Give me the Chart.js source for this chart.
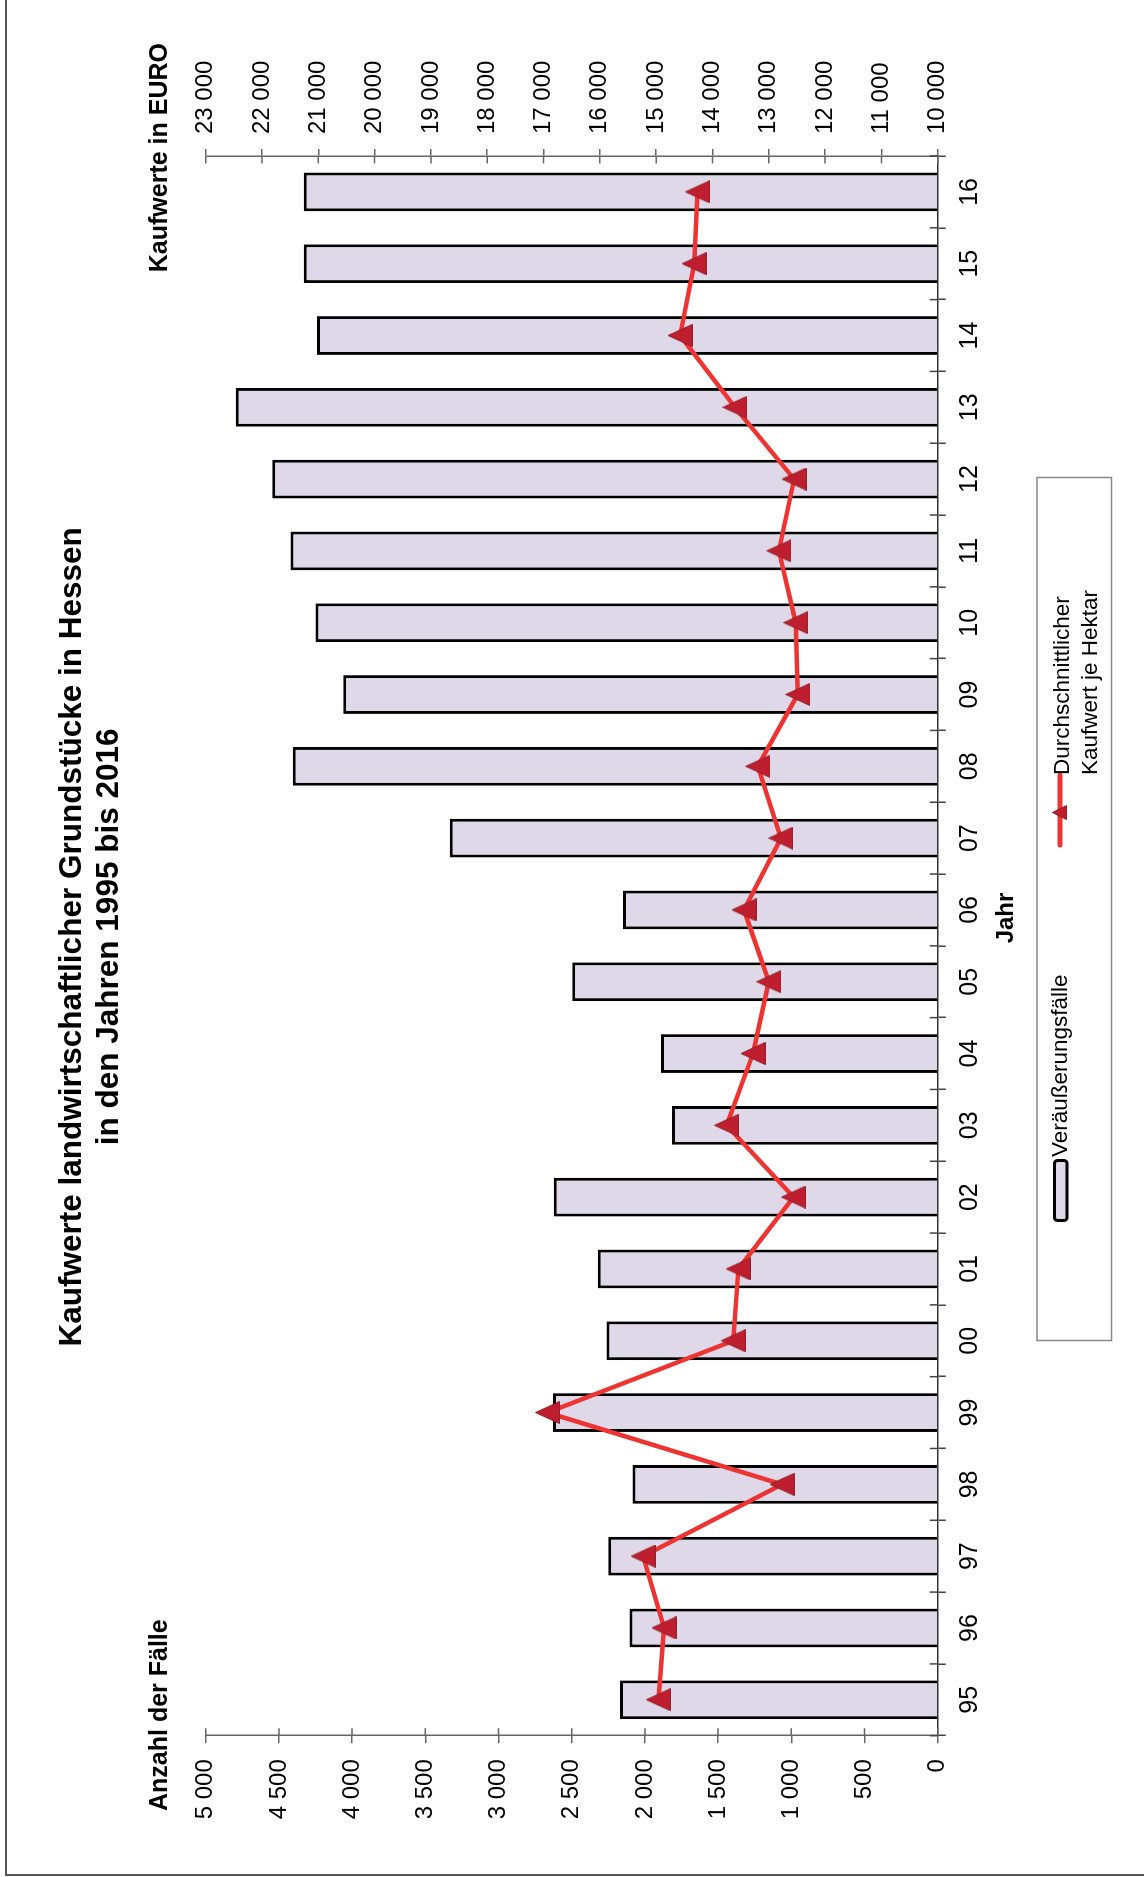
<!DOCTYPE html>
<html lang="de">
<head>
<meta charset="utf-8">
<title>Kaufwerte landwirtschaftlicher Grundstücke in Hessen</title>
<script src="https://cdn.jsdelivr.net/npm/chart.js@4.4.1/dist/chart.umd.min.js"></script>
<style>
  html, body { margin: 0; padding: 0; background: #fff; }
  body { width: 1144px; height: 1877px; position: relative; overflow: hidden; }
  #frame { position: absolute; left: 5px; top: 0; width: 1139px; height: 1876px;
           border-left: 2px solid #555; border-bottom: 2px solid #555; box-sizing: border-box; }
  #turn { position: absolute; left: 0; top: 0; width: 1877px; height: 1144px;
          transform-origin: 0 0; transform: translateY(1877px) rotate(-90deg); }
</style>
</head>
<body>
<div id="frame"></div>
<div id="turn"><canvas id="chart" width="1877" height="1144"></canvas></div>
<script>
// Jahre 1995 - 2016
const years = ['95', '96', '97', '98', '99', '00', '01', '02', '03', '04', '05',
               '06', '07', '08', '09', '10', '11', '12', '13', '14', '15', '16']
// Anzahl der Veräußerungsfälle
const cases = [2170, 2105, 2250, 2085, 2628, 2262, 2322, 2622, 1815, 1890, 2497,
               2150, 3333, 4405, 4060, 4250, 4420, 4545, 4795, 4240, 4330, 4330]
// durchschnittlicher Kaufwert je Hektar in EURO
const pricePerHa = [14960, 14860, 15230, 12765, 16930, 13630, 13540, 12560, 13750, 13280, 13000,
                    13440, 12785, 13195, 12485, 12520, 12820, 12550, 13600, 14575, 14325, 14265]

// Achsen
const caseAxis = { min: 0, max: 5000, step: 500 }
const priceAxis = { min: 10000, max: 23000, step: 1000 }

const titleLines = ['Kaufwerte landwirtschaftlicher Grundstücke in Hessen', 'in den Jahren 1995 bis 2016']
const leftTitle = 'Anzahl der Fälle'
const rightTitle = 'Kaufwerte in EURO'
const xTitle = 'Jahr'
const barLabel = 'Veräußerungsfälle'
const lineLabel = ['Durchschnittlicher', 'Kaufwert je Hektar']

const FONT = '"Liberation Sans", Arial, Helvetica, sans-serif'
const BAR_FILL = '#DED8E8'
const LINE_RED = '#EE3432'
const MARK_RED = '#BE1E2D'

function fmt(v) {
    if (v < 1000) return String(v)
    return Math.floor(v / 1000) + ' ' + String(v % 1000).padStart(3, '0')
}

function makeTriangle(w, h) {
    let c = document.createElement('canvas')
    c.width = w
    c.height = h
    let g = c.getContext('2d')
    g.beginPath()
    g.moveTo(w / 2, 0.5)
    g.lineTo(w - 0.5, h - 0.5)
    g.lineTo(0.5, h - 0.5)
    g.closePath()
    g.fillStyle = MARK_RED
    g.fill()
    g.strokeStyle = '#93202A'
    g.lineWidth = 1
    g.stroke()
    return c
}

const extras = {
    id: 'extras',
    afterDraw(chart) {
        const ctx = chart.ctx
        const a = chart.chartArea
        const x = chart.scales.x, y = chart.scales.y, y1 = chart.scales.y1
        ctx.save()

        // Teilstriche nach innen
        ctx.lineWidth = 1.5
        ctx.strokeStyle = '#666'
        ctx.beginPath()
        y.ticks.forEach(t => {
            let p = y.getPixelForValue(t.value)
            ctx.moveTo(a.left, p); ctx.lineTo(a.left + 7.5, p)
        })
        y1.ticks.forEach(t => {
            let p = y1.getPixelForValue(t.value)
            ctx.moveTo(a.right, p); ctx.lineTo(a.right - 7.5, p)
        })
        ctx.stroke()
        ctx.strokeStyle = '#444'
        ctx.beginPath()
        for (let i = 0; i <= years.length; i++) {
            let p = x.getPixelForValue(i - 0.5)
            ctx.moveTo(p, a.bottom); ctx.lineTo(p, a.bottom - 8)
        }
        ctx.stroke()

        // Titel
        ctx.fillStyle = '#000'
        ctx.textAlign = 'center'
        ctx.textBaseline = 'alphabetic'
        ctx.font = 'bold 31.5px ' + FONT
        const cx = (a.left + a.right) / 2 + 9
        ctx.fillText(titleLines[0], cx, 81)
        ctx.fillText(titleLines[1], cx, 118)

        // Achsentitel
        ctx.font = 'bold 25px ' + FONT
        ctx.textAlign = 'left'
        ctx.fillText(leftTitle, 66, 167)
        ctx.textAlign = 'right'
        ctx.fillText(rightTitle, 1834, 167)
        ctx.font = 'bold 24px ' + FONT
        ctx.textAlign = 'center'
        ctx.fillText(xTitle, 959, 1013)

        // Legende
        ctx.strokeStyle = '#888'
        ctx.lineWidth = 1.5
        ctx.strokeRect(536.5, 1037, 863, 74.5)

        ctx.beginPath()
        ctx.roundRect(656.5, 1054.5, 60, 12.5, 3)
        ctx.fillStyle = BAR_FILL
        ctx.fill()
        ctx.strokeStyle = '#000'
        ctx.lineWidth = 3
        ctx.stroke()

        ctx.beginPath()
        ctx.moveTo(1032, 1060)
        ctx.lineTo(1102, 1060)
        ctx.strokeStyle = LINE_RED
        ctx.lineWidth = 5
        ctx.lineCap = 'round'
        ctx.stroke()
        ctx.drawImage(makeTriangle(15, 15), 1057, 1052)

        ctx.fillStyle = '#000'
        ctx.font = '22.5px ' + FONT
        ctx.textAlign = 'left'
        ctx.fillText(barLabel, 720, 1067)
        ctx.fillText(lineLabel[0], 1102, 1069)
        ctx.fillText(lineLabel[1], 1102, 1097)

        ctx.restore()
    }
}

Chart.defaults.font.family = FONT
Chart.defaults.color = '#000'

const tickFont = { size: 24 }

new Chart(document.getElementById('chart'), {
    type: 'bar',
    data: {
        labels: years,
        datasets: [{
            type: 'line',
            label: lineLabel.join(' '),
            data: pricePerHa,
            yAxisID: 'y1',
            order: 1,
            borderColor: LINE_RED,
            borderWidth: 4.5,
            tension: 0,
            borderJoinStyle: 'round',
            pointStyle: makeTriangle(23, 25),
            pointRadius: 12
        }, {
            type: 'bar',
            label: barLabel,
            data: cases,
            yAxisID: 'y',
            order: 2,
            backgroundColor: BAR_FILL,
            borderColor: '#000',
            borderWidth: 3,
            barPercentage: 0.54,
            categoryPercentage: 1.0
        }]
    },
    options: {
        responsive: false,
        animation: false,
        devicePixelRatio: 1,
        layout: { padding: { top: 205.7, left: 0, right: 0, bottom: 0 }, autoPadding: false },
        plugins: {
            legend: { display: false },
            tooltip: { enabled: false },
            title: { display: false }
        },
        scales: {
            x: {
                grid: { drawOnChartArea: false, tickLength: 8, color: '#444', lineWidth: 1.5, offset: true },
                border: { color: '#333', width: 1.5 },
                ticks: { font: { size: 25 }, padding: 9, maxRotation: 0 },
                afterFit: (s) => { s.height = 206.3 }
            },
            y: {
                position: 'left',
                min: caseAxis.min,
                max: caseAxis.max,
                grid: { drawOnChartArea: false, tickLength: 7.5, color: '#666', lineWidth: 1.5 },
                border: { color: '#666', width: 1.5 },
                ticks: { stepSize: caseAxis.step, font: tickFont, padding: 16, callback: (v) => fmt(v) },
                afterFit: (s) => { s.width = 141.3 }
            },
            y1: {
                position: 'right',
                min: priceAxis.min,
                max: priceAxis.max,
                grid: { drawOnChartArea: false, tickLength: 7, color: '#666', lineWidth: 1.5 },
                border: { color: '#666', width: 1.5 },
                ticks: { stepSize: priceAxis.step, font: tickFont, padding: 15, callback: (v) => fmt(v) },
                afterFit: (s) => { s.width = 156 }
            }
        }
    },
    plugins: [extras]
})
</script>
</body>
</html>
